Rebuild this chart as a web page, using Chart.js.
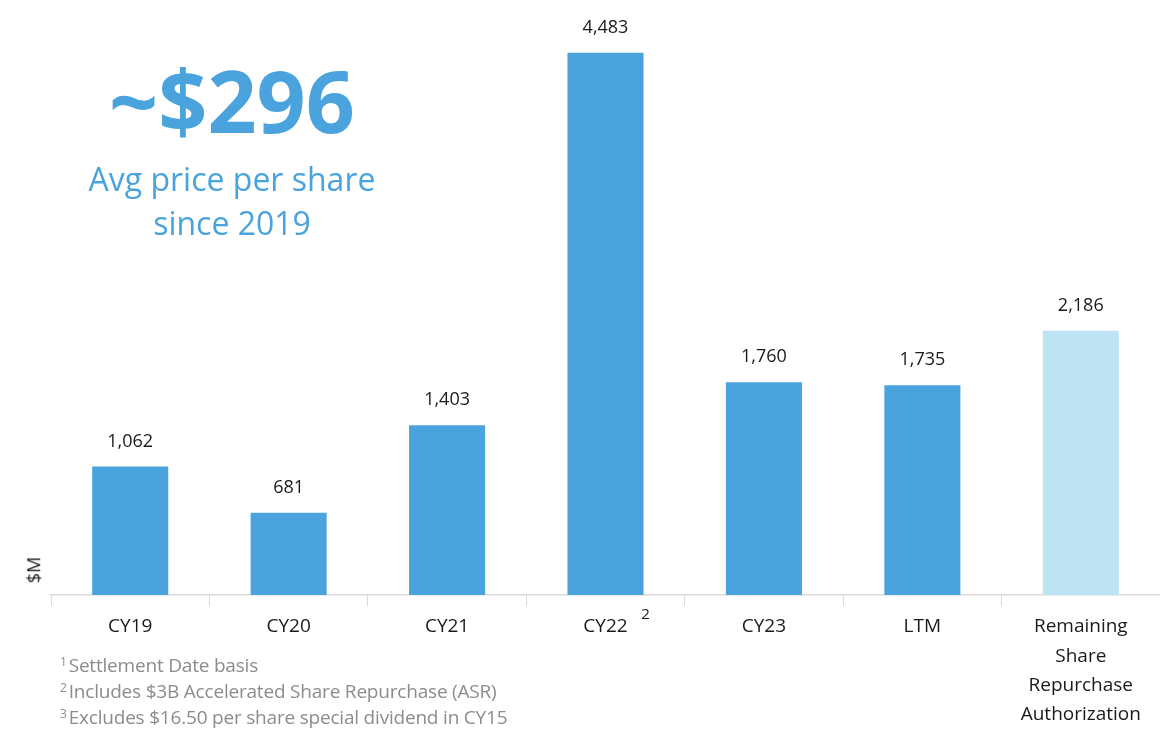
<!DOCTYPE html>
<html>
<head>
<meta charset="utf-8">
<script src="https://cdn.jsdelivr.net/npm/chart.js@4"></script>
<style>
  html, body { margin: 0; padding: 0; background: #fff; }
  #wrap { position: relative; width: 1160px; height: 742px; font-family: "Open Sans", sans-serif; }
  #wrap canvas { position: absolute; left: 0; top: 0; }
  .headline { position: absolute; left: 32px; width: 400px; text-align: center; color: #4aa3dc; }
  #big { top: 47px; font-size: 86px; font-weight: 700; line-height: 106px; }
  #sub { top: 157px; font-size: 32px; line-height: 44px; }
  #notes { position: absolute; left: 60px; top: 652px; color: #8c8c8c; font-size: 19px; line-height: 26px; letter-spacing: -0.2px; }
  #notes sup { font-size: 12px; line-height: 0; vertical-align: 6px; margin-right: 2px; }
  #unit { position: absolute; left: 20px; top: 558px; transform: rotate(-90deg); transform-origin: 50% 50%; font-size: 18px; color: #1a1a1a; }
</style>
</head>
<body>
<div id="wrap">
  <canvas id="myChart" width="1160" height="742"></canvas>
  <div class="headline" id="big">~$296</div>
  <div class="headline" id="sub">Avg price per share<br>since 2019</div>
  <div id="unit">$M</div>
  <div id="notes">
    <div><sup>1</sup>Settlement Date basis</div>
    <div><sup>2</sup>Includes $3B Accelerated Share Repurchase (ASR)</div>
    <div><sup>3</sup>Excludes $16.50 per share special dividend in CY15</div>
  </div>
</div>
<script>
let categories = ['CY19', 'CY20', 'CY21', 'CY22', 'CY23', 'LTM', ['Remaining', 'Share', 'Repurchase', 'Authorization']];
let repurchases = [1062, 681, 1403, 4483, 1760, 1735, 2186];
let barColors = ['#4aa3dc', '#4aa3dc', '#4aa3dc', '#4aa3dc', '#4aa3dc', '#4aa3dc', '#bee3f3'];

// value labels above the bars + footnote mark on CY22
const valueLabels = {
    id: 'valueLabels',
    afterDatasetsDraw(chart) {
        let ctx = chart.ctx;
        let meta = chart.getDatasetMeta(0);
        ctx.save();
        ctx.font = '18px "Open Sans"';
        ctx.fillStyle = '#1a1a1a';
        ctx.textAlign = 'center';
        ctx.textBaseline = 'middle';
        meta.data.forEach((bar, i) => {
            ctx.fillText(repurchases[i].toLocaleString('en-US'), bar.x, bar.y - 25);
        });
        let x = chart.scales.x.getPixelForValue(3);
        ctx.font = '15px "Open Sans"';
        ctx.fillText('2', x + 40, 615);
        ctx.restore();
    }
};

var ctx = document.getElementById('myChart').getContext('2d');
var myChart = new Chart(ctx, {
    type: 'bar',
    data: {
        labels: categories,
        datasets: [{
            data: repurchases,
            backgroundColor: barColors,
            borderWidth: 0,
            categoryPercentage: 1,
            barPercentage: 0.48
        }]
    },
    options: {
        responsive: false,
        animation: false,
        layout: { padding: { left: 51, right: 0, top: 0, bottom: 0 } },
        plugins: { legend: { display: false }, tooltip: { enabled: false } },
        scales: {
            y: {
                display: false,
                min: 0,
                max: 4920
            },
            x: {
                afterFit: s => { s.height = 147; },
                grid: {
                    drawOnChartArea: false,
                    color: '#d9d9d9',
                    tickLength: 11
                },
                border: { color: '#d9d9d9', width: 1.5 },
                ticks: {
                    color: '#1a1a1a',
                    font: { family: 'Open Sans', size: 19, lineHeight: 1.55 },
                    padding: 6,
                    maxRotation: 0,
                    autoSkip: false
                }
            }
        }
    },
    plugins: [valueLabels]
});
</script>
</body>
</html>
